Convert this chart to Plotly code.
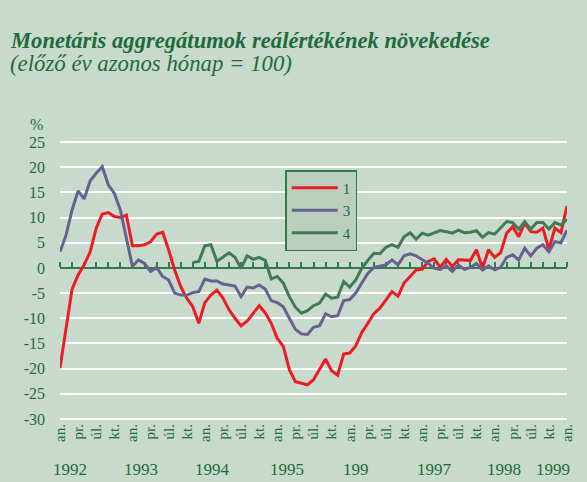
import plotly.graph_objects as go

# month index: 0 = Jan 1992 ... 84 = Jan 1999
months = list(range(85))

series1 = [-19.9, -12.0, -4.2, -1.4, 0.6, 3.2, 7.9, 10.7, 11.0, 10.2, 10.0, 10.5,
           4.4, 4.4, 4.6, 5.2, 6.7, 7.1, 3.6, -0.4, -3.7, -6.0, -7.7, -11.0,
           -6.9, -5.4, -4.4, -6.0, -8.3, -10.0, -11.5, -10.6, -9.0, -7.5, -8.9, -11.0,
           -14.0, -15.6, -20.2, -22.6, -22.9, -23.2, -22.2, -20.2, -18.1, -20.4, -21.3, -17.1,
           -16.9, -15.5, -12.8, -11.0, -9.1, -8.0, -6.3, -4.7, -5.6, -3.0, -1.7, -0.4,
           -0.3, 1.3, 1.8, 0.1, 1.7, 0.3, 1.6, 1.5, 1.5, 3.6, -0.1, 3.6,
           2.1, 3.0, 6.9, 8.2, 6.2, 8.9, 7.2, 7.1, 7.9, 3.7, 7.9, 7.0,
           12.3]

series3 = [3.2, 6.5, 11.5, 15.3, 13.7, 17.3, 18.8, 20.1, 16.5, 14.8, 11.5, 6.2,
           0.3, 1.6, 0.9, -0.7, 0.1, -1.7, -2.4, -5.0, -5.4, -5.4, -4.9, -4.7,
           -2.2, -2.6, -2.6, -3.2, -3.4, -3.6, -5.7, -3.8, -4.0, -3.4, -4.2, -6.5,
           -6.9, -7.7, -10.0, -12.2, -13.1, -13.2, -11.8, -11.5, -9.1, -9.7, -9.5, -6.5,
           -6.3, -5.0, -3.0, -1.1, 0.1, 0.3, 0.6, 1.6, 0.6, 2.4, 2.8, 2.4,
           1.7, 0.9, -0.1, -0.3, 0.4, -0.7, 0.6, -0.3, 0.1, 0.9, -0.4, 0.4,
           -0.4, 0.1, 2.1, 2.6, 1.6, 3.9, 2.4, 3.9, 4.6, 3.2, 5.2, 5.0,
           7.5]

months4 = list(range(22, 85))
series4 = [1.1, 1.3, 4.4, 4.6, 1.3, 2.1, 3.0, 2.1, -0.1, 2.4, 1.7, 2.1,
           1.5, -2.2, -1.7, -3.0, -5.7, -7.8, -9.0, -8.5, -7.5, -7.0, -5.2, -6.0,
           -5.8, -2.7, -3.8, -2.4, -0.1, 1.5, 2.9, 2.8, 4.1, 4.6, 4.1, 6.2,
           7.0, 5.7, 6.9, 6.5, 6.9, 7.4, 7.2, 6.9, 7.5, 7.0, 7.1, 7.4,
           6.1, 7.0, 6.7, 7.9, 9.2, 9.0, 7.7, 9.2, 7.7, 9.0, 9.0, 7.7,
           9.0, 8.5, 9.7]

quarter_names = ["an.", "pr.", "úl.", "kt."]
quarter_vals = list(range(0, 85, 3))
quarter_text = [quarter_names[i % 4] for i in range(len(quarter_vals))]

year_labels = ["1992", "1993", "1994", "1995", "199", "1997", "1998", "1999"]
year_pos = [1.6, 13.5, 25.3, 37.6, 49.0, 62.0, 73.5, 81.7]

y_ticks = list(range(-30, 30, 5))
y_tick_text = [str(v) for v in y_ticks]

title_line1 = "Monetáris aggregátumok reálértékének növekedése"
title_line2 = "(előző év azonos hónap = 100)"

BG = "#C8DACB"
TXT = "#1E6B3C"
AXC = "#2F7B4C"
SERIF = "Liberation Serif"

fig = go.Figure()
fig.add_trace(go.Scatter(x=months, y=series1, name="1", mode="lines",
                         line=dict(color="#EC1C24", width=3)))
fig.add_trace(go.Scatter(x=months, y=series3, name="3", mode="lines",
                         line=dict(color="#67618F", width=3)))
fig.add_trace(go.Scatter(x=months4, y=series4, name="4", mode="lines",
                         line=dict(color="#417A56", width=3)))
fig.add_trace(go.Scatter(x=[], y=[], xaxis="x2", yaxis="y", showlegend=False,
                         hoverinfo="skip"))

YMIN, YMAX = -30.2, 25.2
zero_pos = (0 - YMIN) / (YMAX - YMIN)

PLOT_L, PLOT_W, PLOT_B, PLOT_H = 60, 511, 420, 279


def px_x(px):
    return (px - PLOT_L) / PLOT_W


def px_y(py):
    return (PLOT_B - py) / PLOT_H


annotations = [dict(text=t, x=p, xref="x", y=px_y(469), yref="paper",
                    showarrow=False, xanchor="center", yanchor="middle",
                    font=dict(family=SERIF, size=17, color=TXT))
               for t, p in zip(year_labels, year_pos)]
annotations.append(dict(text="%", x=px_x(36), xref="paper", y=px_y(125), yref="paper",
                        showarrow=False, xanchor="center", yanchor="middle",
                        font=dict(family=SERIF, size=16, color=TXT)))
annotations.append(dict(text="<b><i>" + title_line1 + "</i></b>", x=px_x(8), xref="paper",
                        y=px_y(40), yref="paper", showarrow=False,
                        xanchor="left", yanchor="middle",
                        font=dict(family=SERIF, size=22.6, color=TXT)))
annotations.append(dict(text="<i>" + title_line2 + "</i>", x=px_x(8), xref="paper",
                        y=px_y(63), yref="paper", showarrow=False,
                        xanchor="left", yanchor="middle",
                        font=dict(family=SERIF, size=22.8, color=TXT)))

fig.update_layout(
    width=587, height=482,
    paper_bgcolor=BG, plot_bgcolor=BG,
    margin=dict(l=60, r=16, t=141, b=62),
    xaxis=dict(range=[0, 84], tickvals=quarter_vals, ticktext=quarter_text,
               tickangle=-90, showgrid=False, zeroline=False, showline=False,
               ticks="", tickfont=dict(family=SERIF, size=15, color=TXT)),
    xaxis2=dict(range=[0, 84], overlaying="x", anchor="free", position=zero_pos,
                side="top", showline=True, linecolor=AXC, linewidth=2,
                ticks="outside", tickcolor=AXC, ticklen=5, tickwidth=1.5,
                dtick=2, tick0=0, showticklabels=False, showgrid=False,
                zeroline=False, layer="below traces"),
    yaxis=dict(range=[YMIN, YMAX], tickvals=y_ticks, ticktext=y_tick_text,
               showgrid=True, gridcolor="white", gridwidth=2, zeroline=False,
               showline=False, ticks="", ticklabelstandoff=14,
               tickfont=dict(family=SERIF, size=16, color=TXT)),
    showlegend=True,
    legend=dict(x=px_x(287), y=px_y(170), xanchor="left", yanchor="top",
                bgcolor="#BBCFBE", bordercolor=AXC, borderwidth=1.5,
                font=dict(family=SERIF, size=15, color=TXT), itemwidth=46,
                tracegroupgap=0),
    annotations=annotations,
)

fig.write_html("out.html", config={"displayModeBar": False},
               post_script="document.body.style.margin='0px';")
